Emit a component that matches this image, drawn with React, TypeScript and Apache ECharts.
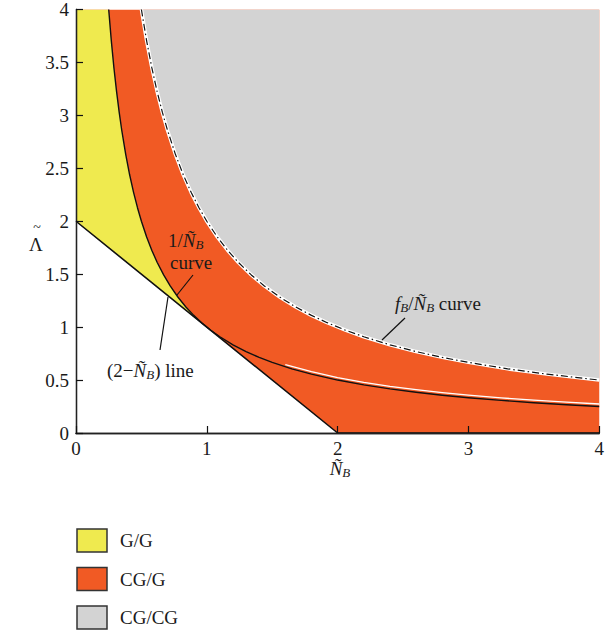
import React, { useEffect, useRef } from "react";
import * as echarts from "echarts";

// ---- data ----
const xTickValues = [0, 1, 2, 3, 4];
const yTickValues = [0, 0.5, 1, 1.5, 2, 2.5, 3, 3.5, 4];

// 1/N_B curve
const recipX = [0.25, 0.27, 0.29, 0.31, 0.33, 0.35, 0.38, 0.41, 0.44, 0.47, 0.5, 0.54, 0.58, 0.62, 0.67, 0.72, 0.78, 0.84, 0.9, 0.96, 1.03, 1.1, 1.2, 1.3, 1.4, 1.5, 1.65, 1.8, 2, 2.2, 2.4, 2.6, 2.8, 3, 3.25, 3.5, 3.75, 4];
const recipY = [4, 3.704, 3.448, 3.226, 3.03, 2.857, 2.632, 2.439, 2.273, 2.128, 2, 1.852, 1.724, 1.613, 1.493, 1.389, 1.282, 1.19, 1.111, 1.042, 0.971, 0.909, 0.833, 0.769, 0.714, 0.667, 0.606, 0.556, 0.5, 0.455, 0.417, 0.385, 0.357, 0.333, 0.308, 0.286, 0.267, 0.25];
// thin white line just above the 1/N_B curve
const highlightX = [1.6, 1.8, 2, 2.2, 2.4, 2.6, 2.8, 3, 3.25, 3.5, 3.75, 4];
const highlightY = [0.645, 0.58, 0.524, 0.479, 0.441, 0.409, 0.382, 0.357, 0.332, 0.31, 0.291, 0.274];
// f_B/N_B curve
const fBX = [0.5, 0.54, 0.58, 0.62, 0.66, 0.7, 0.76, 0.82, 0.88, 0.94, 1, 1.08, 1.16, 1.24, 1.34, 1.44, 1.56, 1.68, 1.8, 1.92, 2.06, 2.2, 2.4, 2.6, 2.8, 3, 3.3, 3.6, 4];
const fBY = [4, 3.704, 3.448, 3.226, 3.03, 2.857, 2.632, 2.439, 2.273, 2.128, 2, 1.852, 1.724, 1.613, 1.493, 1.389, 1.282, 1.19, 1.111, 1.042, 0.971, 0.909, 0.833, 0.769, 0.714, 0.667, 0.606, 0.556, 0.5];
// (2 - N_B) line and lower boundary of CG/G
const twoMinusN: number[][] = [[0, 2], [2, 0]];
const lowerBoundary: number[][] = [[0, 2], [2, 0], [4, 0]];
const yellowTop: number[][] = [[0, 4], [0.25, 4]];
const fullTop: number[][] = [[0, 4], [4, 4]];

const legendLabels = ["G/G", "CG/G", "CG/CG"];

const YELLOW = "#EFEA4F";
const RED = "#F15A24";
const GRAY = "#D3D3D3";
const FONT = "Liberation Serif";
const FS = 19;

const zip = (xs: number[], ys: number[]) => xs.map((x, i) => [x, ys[i]]);
const recipCurve = zip(recipX, recipY);
const recipHighlight = zip(highlightX, highlightY);
const fBCurve = zip(fBX, fBY);

const rich = {
  r: { fontFamily: FONT, fontSize: FS, fill: "#1a1a1a" },
  i: { fontFamily: FONT, fontSize: FS, fontStyle: "italic", fill: "#1a1a1a" },
  s: { fontFamily: FONT, fontSize: 13, fontStyle: "italic", fill: "#1a1a1a", padding: [9, 0, 0, 0] },
  ni: { fontFamily: FONT, fontSize: FS, fontStyle: "italic", fill: "#1a1a1a", lineHeight: 16 },
  ns: { fontFamily: FONT, fontSize: 13, lineHeight: 13, fontStyle: "italic", fill: "#1a1a1a", padding: [8, 0, 0, 0] },
};

function txt(x: number, y: number, text: string, align = "left", size = FS) {
  return {
    type: "text",
    x,
    y,
    z: 100,
    style: { text, rich, fontFamily: FONT, fontSize: size, fill: "#1a1a1a", align, verticalAlign: "middle" },
  };
}
function seg(x1: number, y1: number, x2: number, y2: number) {
  return {
    type: "line",
    z: 100,
    shape: { x1, y1, x2, y2 },
    style: { stroke: "#111", lineWidth: 1.2 },
  };
}

function areaSeries(data: number[][], color: string, origin: string) {
  return {
    type: "line",
    data,
    smooth: false,
    showSymbol: false,
    silent: true,
    lineStyle: { width: 0, opacity: 0 },
    areaStyle: { color, opacity: 1, origin },
  };
}
function lineSeries(data: number[][], color: string, width: number, type: any) {
  return {
    type: "line",
    data,
    smooth: false,
    showSymbol: false,
    silent: true,
    lineStyle: { color, width, type, join: "round" },
  };
}

export default function App() {
  const ref = useRef<HTMLDivElement>(null);
  useEffect(() => {
    if (!ref.current) return;
    const chart = echarts.init(ref.current, undefined, { renderer: "svg" });
    const yellowData = yellowTop.concat(recipCurve.filter((p) => p[0] > 0.25 && p[0] <= 1.03));
    const legendColors = [YELLOW, RED, GRAY];
    const legendGraphics: any[] = [];
    legendLabels.forEach((lab, k) => {
      const top = 529 + k * 38.5;
      legendGraphics.push({
        type: "rect",
        shape: { x: 77, y: top, width: 30, height: 23 },
        style: { fill: legendColors[k], stroke: "#333", lineWidth: 1.5 },
      });
      legendGraphics.push(txt(120, top + 11.5, lab));
    });
    const axisCommon = {
      min: 0,
      max: 4,
      z: 10,
      splitLine: { show: false },
      axisLine: { show: true, lineStyle: { color: "#222", width: 1.3 } },
    };
    chart.setOption({
      animation: false,
      textStyle: { fontFamily: FONT },
      grid: { left: 76, top: 6, right: 2, bottom: 201, containLabel: false },
      xAxis: [
        {
          ...axisCommon,
          type: "value",
          interval: 1,
          axisTick: { show: true, inside: true, length: 7, lineStyle: { color: "#111", width: 1.2 } },
          axisLabel: {
            margin: 8,
            lineHeight: 15,
            fontFamily: FONT,
            fontSize: FS,
            color: "#1a1a1a",
            formatter: (v: number) => (xTickValues.includes(v) ? String(v) : ""),
          },
        },
        {
          ...axisCommon,
          type: "value",
          position: "top",
          axisTick: { show: false },
          axisLabel: { show: false },
        },
      ],
      yAxis: [
        {
          ...axisCommon,
          type: "value",
          interval: 0.5,
          axisTick: { show: true, inside: true, length: 7, lineStyle: { color: "#111", width: 1.2 } },
          axisLabel: {
            margin: 7,
            fontFamily: FONT,
            fontSize: FS,
            color: "#1a1a1a",
            formatter: (v: number) => (yTickValues.includes(v) ? String(v) : ""),
          },
        },
        {
          ...axisCommon,
          type: "value",
          position: "right",
          axisTick: { show: false },
          axisLabel: { show: false },
        },
      ],
      series: [
        areaSeries(fullTop, RED, "start"),
        areaSeries(fBCurve, GRAY, "end"),
        areaSeries(yellowData, YELLOW, "start"),
        areaSeries(twoMinusN, "#ffffff", "start"),
        lineSeries(recipHighlight, "#ffffff", 1.3, "solid"),
        lineSeries(recipCurve, "#111111", 1.4, "solid"),
        lineSeries(lowerBoundary, "#111111", 1.6, "solid"),
        lineSeries(fBCurve, "#ffffff", 3.5, "solid"),
        lineSeries(fBCurve, "#111111", 1.2, [7, 3, 1.5, 3]),
      ],
      graphic: [
        // axis titles
        txt(37, 227, "~", "center", 14),
        txt(36, 244, "Λ", "center"),
        txt(340, 468, "{ni|Ñ}{ns|B}", "center"),
        // annotations
        txt(168, 240, "{r|1/}{i|Ñ}{s|B}"),
        txt(170, 262, "{r|curve}"),
        seg(193, 275, 177, 295),
        txt(107, 370, "{r|(2−}{i|Ñ}{s|B}{r|) line}"),
        seg(160, 350, 168, 297),
        txt(395, 303, "{i|f}{s|B}{r|/}{i|Ñ}{s|B}{r| curve}"),
        seg(405, 318, 382, 340),
        ...legendGraphics,
      ],
    });
    return () => chart.dispose();
  }, []);
  return (
    <div
      ref={ref}
      style={{ position: "fixed", left: 0, top: 0, width: 607, height: 634, background: "#fff" }}
    />
  );
}
